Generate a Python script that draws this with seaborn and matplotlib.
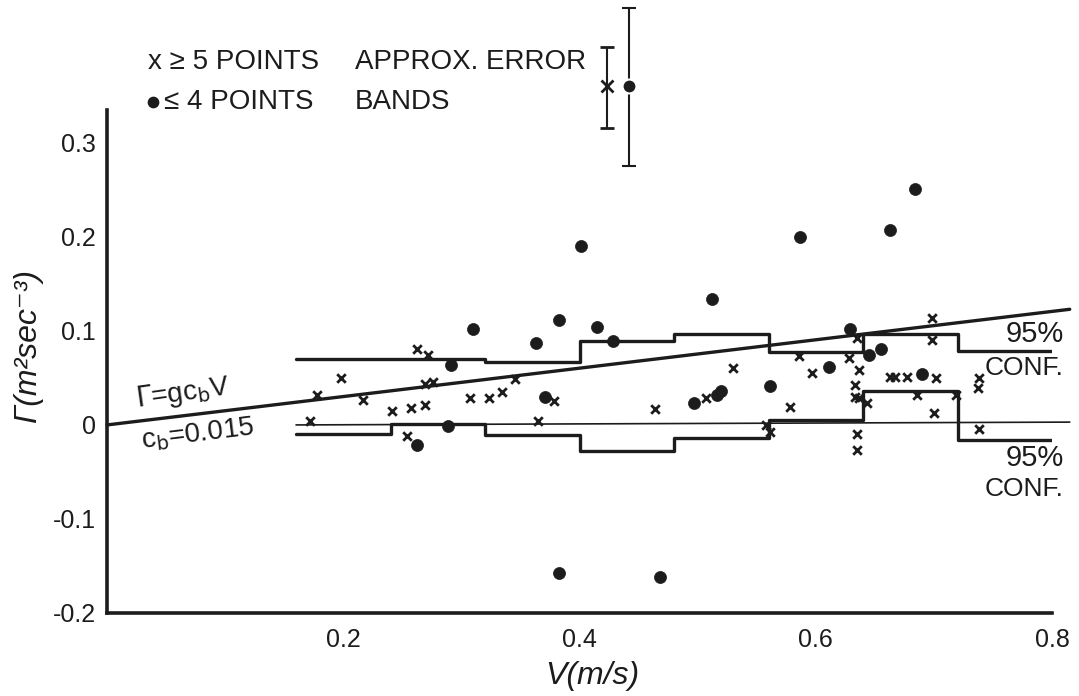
import numpy as np
import pandas as pd
import matplotlib
matplotlib.use("Agg")
import matplotlib.pyplot as plt
import seaborn as sns

# --- data ---
# points averaged from >= 5 points (x markers)
many_v = [0.172, 0.178, 0.198, 0.217, 0.241, 0.254, 0.257, 0.262, 0.269, 0.269,
          0.276, 0.272, 0.307, 0.323, 0.334, 0.345, 0.365, 0.378, 0.464, 0.507,
          0.530, 0.558, 0.561, 0.578, 0.586, 0.597, 0.628, 0.633, 0.633, 0.637,
          0.643, 0.635, 0.637, 0.635, 0.635, 0.663, 0.667, 0.677, 0.686, 0.698,
          0.698, 0.700, 0.702, 0.719, 0.737, 0.738, 0.738]
many_g = [0.004, 0.032, 0.050, 0.027, 0.015, -0.012, 0.018, 0.081, 0.021, 0.044,
          0.046, 0.074, 0.029, 0.029, 0.035, 0.049, 0.004, 0.025, 0.017, 0.029,
          0.061, 0.000, -0.008, 0.019, 0.073, 0.055, 0.071, 0.043, 0.030, 0.029,
          0.023, 0.092, 0.058, -0.010, -0.027, 0.051, 0.051, 0.051, 0.032, 0.114,
          0.090, 0.013, 0.050, 0.032, 0.039, 0.050, -0.004]

# points averaged from <= 4 points (dots)
few_v = [0.262, 0.289, 0.291, 0.310, 0.363, 0.371, 0.383, 0.383, 0.401, 0.415,
         0.428, 0.468, 0.497, 0.512, 0.516, 0.520, 0.561, 0.587, 0.611, 0.629,
         0.645, 0.655, 0.663, 0.684, 0.690]
few_g = [-0.021, -0.001, 0.064, 0.102, 0.087, 0.030, 0.112, -0.158, 0.190, 0.104,
         0.089, -0.162, 0.023, 0.134, 0.032, 0.036, 0.041, 0.200, 0.062, 0.102,
         0.074, 0.081, 0.207, 0.251, 0.054]

# 95% confidence bands (bin edges and levels)
bin_edges = [0.16, 0.24, 0.32, 0.40, 0.48, 0.56, 0.64, 0.72, 0.80]
upper_levels = [0.070, 0.070, 0.067, 0.089, 0.097, 0.078, 0.097, 0.079]
lower_levels = [-0.010, 0.001, -0.011, -0.028, -0.014, 0.005, 0.036, -0.016]

# fitted line Gamma = g c_b V, and zero reference line
fit_v = [0.0, 0.815]
fit_g = [0.0, 0.123]
zero_v = [0.16, 0.815]
zero_g = [0.0, 0.003]

# approximate error bands shown at the top
band_v = [0.423, 0.442]
band_g = [0.360, 0.360]
band_lo = [0.316, 0.275]
band_hi = [0.402, 0.443]

x_ticks = [0.2, 0.4, 0.6, 0.8]
x_ticklabels = ["0.2", "0.4", "0.6", "0.8"]
y_ticks = [-0.2, -0.1, 0.0, 0.1, 0.2, 0.3]
y_ticklabels = ["-0.2", "-0.1", "0", "0.1", "0.2", "0.3"]

sns.set_style("white")
plt.rcParams["font.family"] = ["Liberation Sans", "DejaVu Sans"]
plt.rcParams["mathtext.fontset"] = "dejavusans"

ink = "#1c1c1c"

fig = plt.figure(figsize=(10.79, 6.96), dpi=100)
ax = fig.add_axes([0.0992, 0.1193, 0.8758, 0.7227])

many = pd.DataFrame({"V": many_v, "G": many_g})
few = pd.DataFrame({"V": few_v, "G": few_g})

# lines
sns.lineplot(x=fit_v, y=fit_g, ax=ax, color=ink, lw=2.4, estimator=None,
             sort=False, clip_on=False)
sns.lineplot(x=zero_v, y=zero_g, ax=ax, color=ink, lw=1.2, estimator=None,
             sort=False, clip_on=False)
sns.lineplot(x=bin_edges, y=upper_levels + [upper_levels[-1]], ax=ax, color=ink,
             lw=2.4, drawstyle="steps-post", estimator=None, sort=False)
sns.lineplot(x=bin_edges, y=lower_levels + [lower_levels[-1]], ax=ax, color=ink,
             lw=2.4, drawstyle="steps-post", estimator=None, sort=False)

# points
sns.scatterplot(data=many, x="V", y="G", ax=ax, marker="x", s=38, color=ink,
                linewidth=2.0, zorder=3)
sns.scatterplot(data=few, x="V", y="G", ax=ax, marker="o", s=75, color=ink,
                edgecolor=ink, linewidth=0.5, zorder=3)

# error band indicators (above the axes)
ax.errorbar(band_v[0], band_g[0],
            yerr=[[band_g[0] - band_lo[0]], [band_hi[0] - band_g[0]]],
            fmt="x", color=ink, ms=8, mew=2, capsize=5, elinewidth=1.5,
            capthick=1.5, clip_on=False)
ax.errorbar(band_v[1], band_g[1],
            yerr=[[band_g[1] - band_lo[1]], [band_hi[1] - band_g[1]]],
            fmt="o", color=ink, ms=10, mec="white", mew=1.5, capsize=5,
            elinewidth=1.5, capthick=1.5, clip_on=False)

# legend written as text
ax.text(0.0346, 0.386, "x \u2265 5 POINTS", fontsize=20, color=ink,
        va="center", ha="left")
ax.scatter([0.039], [0.344], marker="o", s=55, color=ink, clip_on=False)
ax.text(0.048, 0.344, "\u2264 4 POINTS", fontsize=20, color=ink,
        va="center", ha="left")
ax.text(0.210, 0.386, "APPROX. ERROR", fontsize=20, color=ink,
        va="center", ha="left")
ax.text(0.210, 0.344, "BANDS", fontsize=20, color=ink,
        va="center", ha="left")

# annotations
ax.text(0.064, 0.034, r"$\Gamma$=gc$_{\mathrm{b}}$V", fontsize=20, color=ink,
        rotation=8, ha="center", va="center")
ax.text(0.077, -0.010, r"c$_{\mathrm{b}}$=0.015", fontsize=20, color=ink,
        rotation=7, ha="center", va="center")
ax.text(0.81, 0.097, "95%", fontsize=21, color=ink, ha="right", va="center")
ax.text(0.81, 0.061, "CONF.", fontsize=19, color=ink, ha="right", va="center")
ax.text(0.81, -0.035, "95%", fontsize=21, color=ink, ha="right", va="center")
ax.text(0.81, -0.068, "CONF.", fontsize=19, color=ink, ha="right", va="center")

# axes
ax.set_xlim(0, 0.8)
ax.set_ylim(-0.197, 0.335)
ax.set_xticks(x_ticks)
ax.set_xticklabels(x_ticklabels)
ax.set_yticks(y_ticks)
ax.set_yticklabels(y_ticklabels)
ax.tick_params(axis="both", direction="in", length=9, width=1.5, colors=ink,
               labelsize=18)
ax.tick_params(axis="x", pad=11)
ax.tick_params(axis="y", pad=8)
for side in ["top", "right"]:
    ax.spines[side].set_visible(False)
for side in ["left", "bottom"]:
    ax.spines[side].set_linewidth(2.6)
    ax.spines[side].set_color(ink)

ax.set_xlabel("V(m/s)", fontsize=23, color=ink, va="center", style="italic")
ax.set_ylabel("\u0393(m\u00b2sec\u207b\u00b3)", fontsize=23, color=ink,
              va="center", style="italic")
ax.xaxis.set_label_coords(0.513, -0.125)
ax.yaxis.set_label_coords(-0.084, 0.53)

fig.savefig("out.png", dpi=100, facecolor="white")
